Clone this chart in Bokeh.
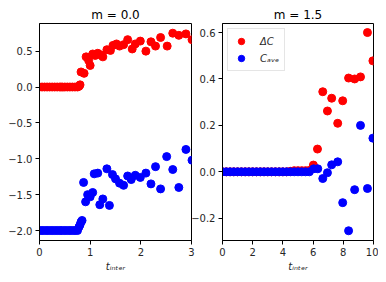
from bokeh.plotting import figure
from bokeh.layouts import row
from bokeh.models import Range1d, FixedTicker, Legend, LegendItem
from bokeh.embed import file_html
from bokeh.resources import INLINE

# ---- data: left panel (m = 0.0) ----
t_dc_left = [0.0, 0.05, 0.10, 0.15, 0.20, 0.25, 0.30, 0.35, 0.40, 0.45, 0.50, 0.55,
             0.60, 0.65, 0.70, 0.75, 0.78, 0.80,
             0.82, 0.88, 0.92, 0.97, 1.00, 1.05, 1.10, 1.15, 1.20, 1.25, 1.33, 1.40,
             1.45, 1.52, 1.58, 1.66, 1.74, 1.83, 1.89, 1.99, 2.10, 2.20, 2.29, 2.39,
             2.52, 2.63, 2.75, 2.89, 3.01]
dc_left = [0.0, 0.0, 0.0, 0.0, 0.0, 0.0, 0.0, 0.0, 0.0, 0.0, 0.0, 0.0,
           0.0, 0.0, 0.0, 0.0, 0.01, 0.03,
           0.21, 0.19, 0.42, 0.37, 0.30, 0.46, 0.44, 0.47, 0.45, 0.42, 0.52, 0.51,
           0.58, 0.60, 0.57, 0.59, 0.66, 0.53, 0.60, 0.64, 0.50, 0.63, 0.57, 0.69,
           0.57, 0.75, 0.72, 0.74, 0.66]
t_cave_left = [0.0, 0.05, 0.10, 0.15, 0.20, 0.25, 0.30, 0.35, 0.40, 0.45, 0.50, 0.55,
               0.60, 0.65, 0.70, 0.75, 0.78, 0.80, 0.82, 0.84,
               0.87, 0.91, 0.95, 1.00, 1.05, 1.08, 1.15, 1.19, 1.25, 1.33, 1.38,
               1.44, 1.50, 1.58, 1.66, 1.74, 1.81, 1.89, 1.99, 2.10, 2.20, 2.29,
               2.39, 2.51, 2.63, 2.75, 2.89, 3.01]
cave_left = [-2.0, -2.0, -2.0, -2.0, -2.0, -2.0, -2.0, -2.0, -2.0, -2.0, -2.0, -2.0,
             -2.0, -2.0, -2.0, -2.0, -1.95, -1.92, -1.88, -1.86,
             -1.33, -1.60, -1.50, -1.53, -1.47, -1.21, -1.20, -1.64, -1.56, -1.14, -1.65,
             -1.22, -1.28, -1.34, -1.37, -1.24, -1.29, -1.23, -1.26, -1.20, -1.35, -1.11,
             -1.42, -0.97, -1.15, -1.40, -0.87, -1.02]

# ---- data: right panel (m = 1.5) ----
t_dc_right = [0.0, 0.25, 0.5, 0.75, 1.0, 1.25, 1.5, 1.75, 2.0, 2.25, 2.5, 2.75, 3.0,
              3.25, 3.5, 3.75, 4.0, 4.25, 4.5, 4.75, 5.0, 5.25, 5.5, 5.75,
              6.02, 6.29, 6.64, 6.95, 7.23, 7.63, 7.96, 8.35, 8.75, 9.14, 9.60, 9.96]
dc_right = [0.0, 0.0, 0.0, 0.0, 0.0, 0.0, 0.0, 0.0, 0.0, 0.0, 0.0, 0.0, 0.0,
            0.0, 0.0, 0.0, 0.0, 0.0, 0.002, 0.005, 0.005, 0.005, 0.005, 0.006,
            0.029, 0.098, 0.345, 0.262, 0.317, 0.209, 0.306, 0.404, 0.400, 0.409, 0.600, 0.478]
t_cave_right = [0.0, 0.25, 0.5, 0.75, 1.0, 1.25, 1.5, 1.75, 2.0, 2.25, 2.5, 2.75, 3.0,
                3.25, 3.5, 3.75, 4.0, 4.25, 4.5, 4.75, 5.0, 5.25, 5.5, 5.75,
                6.04, 6.31, 6.64, 6.95, 7.23, 7.63, 7.96, 8.35, 8.75, 9.14, 9.60, 9.96]
cave_right = [0.0, 0.0, 0.0, 0.0, 0.0, 0.0, 0.0, 0.0, 0.0, 0.0, 0.0, 0.0, 0.0,
              0.0, 0.0, 0.0, 0.0, 0.0, 0.0, 0.0, 0.0, 0.0, 0.0, 0.0,
              0.013, 0.013, -0.029, -0.004, 0.030, 0.043, -0.133, -0.254, -0.077, 0.200, -0.072, 0.145]

titles = ["m = 0.0", "m = 1.5"]
x_label = "tᵢₙₜₑᵣ"
legend_labels = ["ΔC", "Cₐᵥₑ"]
left_xticks = [0, 1, 2, 3]
left_yticks = [-2.0, -1.5, -1.0, -0.5, 0.0, 0.5]
right_xticks = [0, 2, 4, 6, 8, 10]
right_yticks = [-0.2, 0.0, 0.2, 0.4, 0.6]

FONT = "DejaVu Sans"
TXT = "#262626"


def fmt(v, digits):
    s = f"{v:.{digits}f}"
    return s.replace("-", "\u2212")


def make_fig(width, border_left, xr, yr, xticks, yticks, xdig, ydig, title):
    p = figure(width=width, height=282, output_backend="svg", toolbar_location=None,
               x_range=Range1d(*xr), y_range=Range1d(*yr),
               min_border_left=border_left, min_border_right=5,
               min_border_top=23, min_border_bottom=42)
    p.title.text = title
    p.title.align = "center"
    p.title.text_font = FONT
    p.title.text_font_size = "12px"
    p.title.text_font_style = "normal"
    p.title.text_color = "#000000"
    p.title.standoff = 4
    p.grid.visible = False
    p.outline_line_color = "#000000"
    p.outline_line_alpha = 1.0
    p.outline_line_width = 1
    p.background_fill_color = "white"
    p.border_fill_alpha = 0
    for ax, ticks, dig in ((p.xaxis, xticks, xdig), (p.yaxis, yticks, ydig)):
        ax.ticker = FixedTicker(ticks=ticks)
        ax.major_label_overrides = {t: fmt(t, dig) for t in ticks}
        ax.major_tick_in = 0
        ax.major_tick_out = 4
        ax.minor_tick_line_color = None
        ax.axis_line_color = "#000000"
        ax.major_tick_line_color = "#000000"
        ax.major_label_text_font = FONT
        ax.major_label_text_font_size = "10px"
        ax.major_label_text_color = TXT
        ax.major_label_standoff = 3
    p.xaxis.axis_label = x_label
    p.xaxis.axis_label_text_font = FONT
    p.xaxis.axis_label_text_font_size = "10px"
    p.xaxis.axis_label_text_font_style = "italic"
    p.xaxis.axis_label_text_color = TXT
    p.xaxis.axis_label_standoff = 2
    return p


p1 = make_fig(196, 39, (0, 3), (-2.139, 0.885), left_xticks, left_yticks, 0, 1, titles[0])
p1.scatter(t_dc_left, dc_left, size=8, color="#ff0000")
p1.scatter(t_cave_left, cave_left, size=8, color="#0000ff")

p2 = make_fig(190, 34, (0, 10), (-0.296, 0.639), right_xticks, right_yticks, 0, 1, titles[1])
p2.styles = {"margin-left": "-8px"}
r_dc = p2.scatter(t_dc_right, dc_right, size=8, color="#ff0000")
r_cave = p2.scatter(t_cave_right, cave_right, size=8, color="#0000ff")

legend = Legend(items=[LegendItem(label=legend_labels[0], renderers=[r_dc]),
                       LegendItem(label=legend_labels[1], renderers=[r_cave])],
                location="top_left")
legend.margin = 5
legend.padding = 4
legend.spacing = 1
legend.label_height = 16
legend.glyph_height = 16
legend.glyph_width = 18
legend.label_standoff = 10
legend.label_text_font = FONT
legend.label_text_font_size = "10px"
legend.label_text_font_style = "italic"
legend.label_text_color = TXT
legend.border_line_color = "#cccccc"
legend.border_line_width = 1
legend.background_fill_alpha = 0.8
p2.add_layout(legend, "center")

layout = row(p1, p2)
open("out.html", "w").write(file_html(layout, INLINE))
